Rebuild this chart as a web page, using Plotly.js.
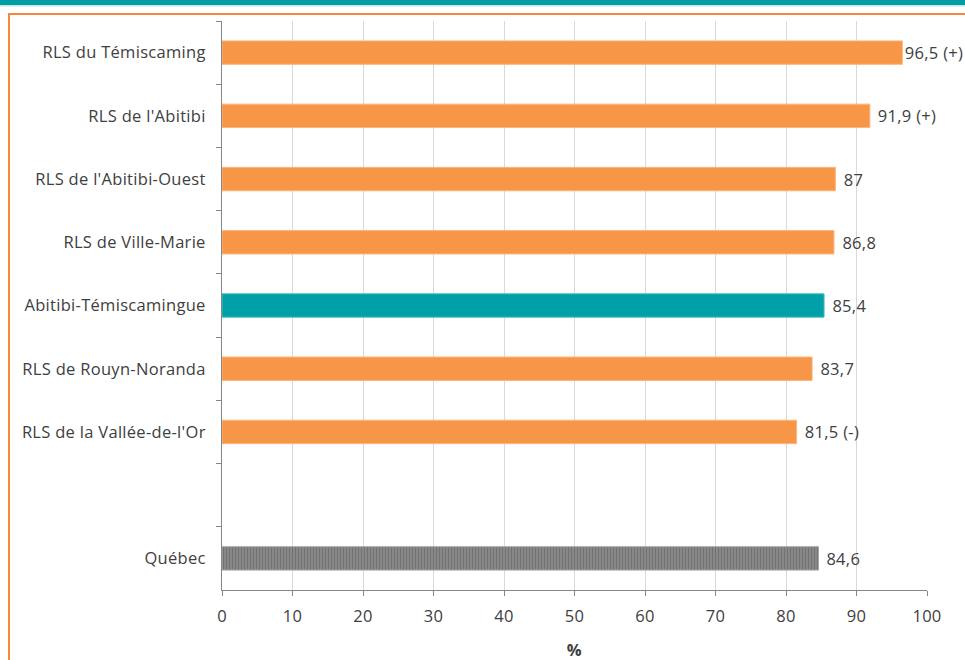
<!DOCTYPE html>
<html>
<head>
<meta charset="utf-8">
<script src="https://cdn.plot.ly/plotly-3.0.1.min.js"></script>
<style>
  html, body { margin: 0; padding: 0; background: #ffffff; }
  #chart { width: 965px; height: 660px; }
  #chart text { letter-spacing: 0.3px; }
</style>
</head>
<body>
<div id="chart"></div>
<script>
// Territories, top to bottom; the blank entry leaves a gap before Québec
const categories = [
  "RLS du Témiscaming",
  "RLS de l'Abitibi",
  "RLS de l'Abitibi-Ouest",
  "RLS de Ville-Marie",
  "Abitibi-Témiscamingue",
  "RLS de Rouyn-Noranda",
  "RLS de la Vallée-de-l'Or",
  " ",
  "Québec"
];
const values = [96.5, 91.9, 87, 86.8, 85.4, 83.7, 81.5, null, 84.6];
// Significance flags versus Québec
const flags = ["(+)", "(+)", "", "", "", "", "(-)", "", ""];
const xTicks = [0, 10, 20, 30, 40, 50, 60, 70, 80, 90, 100];

const ORANGE = "#F79646";
const TEAL = "#00A0A8";
const FONT = "Open Sans, Liberation Sans, sans-serif";
const FS = 16.5;
const TXT = "#404040";

const kinds = ["rls", "rls", "rls", "rls", "region", "rls", "rls", "none", "quebec"];

function fmt(v) {
  return String(v).replace(".", ",");
}

// Three traces so each group can get its own fill
function subset(kind) {
  return {
    x: values.map((v, i) => kinds[i] === kind ? v : null),
    y: categories
  };
}

const common = {
  type: "bar",
  orientation: "h",
  width: 0.37,
  hoverinfo: "skip",
  showlegend: false
};

const traces = [
  Object.assign({}, common, subset("rls"), {
    marker: { color: ORANGE, line: { color: "#FAB57F", width: 1 } }
  }),
  Object.assign({}, common, subset("region"), {
    marker: { color: TEAL, line: { color: "#4DBFC4", width: 1 } }
  }),
  Object.assign({}, common, subset("quebec"), {
    marker: {
      color: "#858585",
      line: { color: "#A6A6A6", width: 1 },
      pattern: { shape: "|", size: 3, solidity: 0.4, fgcolor: "#727272", bgcolor: "#8A8A8A", fillmode: "replace" }
    }
  })
];

// Value labels to the right of each bar; labels near the right edge hug the bar
const annotations = [];
values.forEach((v, i) => {
  if (v === null) return;
  const label = flags[i] ? fmt(v) + " " + flags[i] : fmt(v);
  annotations.push({
    x: v, y: categories[i], xref: "x", yref: "y",
    text: label, showarrow: false,
    xanchor: "left", yanchor: "middle", xshift: v > 95 ? 2 : 7,
    font: { family: FONT, size: FS, color: TXT }
  });
});
annotations.push({
  text: "<b>%</b>", showarrow: false,
  xref: "paper", yref: "paper", x: 0.5, y: -0.104,
  xanchor: "center", yanchor: "middle",
  font: { family: FONT, size: FS, color: TXT }
});

// Paper-coordinate helpers for the frame around the chart
const L = 222, R = 927, T = 21, B = 590;
const px = p => (p - L) / (R - L);
const py = p => (B - p) / (B - T);

const shapes = [
  { type: "rect", xref: "paper", yref: "paper", layer: "below",
    x0: px(-5), x1: px(975), y0: py(0), y1: py(5),
    fillcolor: "#009DA5", line: { width: 0 } },
  { type: "rect", xref: "paper", yref: "paper", layer: "below",
    x0: px(-5), x1: px(975), y0: py(5), y1: py(6.5),
    fillcolor: "#BFE6E8", line: { width: 0 } },
  { type: "rect", xref: "paper", yref: "paper", layer: "below",
    x0: px(9), x1: px(980), y0: py(14), y1: py(680),
    fillcolor: "rgba(0,0,0,0)", line: { color: "#F7863F", width: 2 } }
];

const layout = {
  width: 965, height: 660,
  margin: { l: L, r: 965 - R, t: T, b: 660 - B, pad: 0 },
  paper_bgcolor: "#ffffff",
  plot_bgcolor: "#ffffff",
  font: { family: FONT, size: FS, color: TXT },
  barmode: "overlay",
  xaxis: {
    range: [0, 100],
    tickvals: xTicks,
    ticktext: xTicks.map(String),
    showgrid: true, gridcolor: "#D9D9D9", gridwidth: 1,
    zeroline: false,
    showline: true, linecolor: "#868686", linewidth: 1,
    ticks: "outside", ticklen: 5, tickcolor: "#868686",
    ticklabelstandoff: 6,
    tickfont: { family: FONT, size: FS, color: TXT },
    fixedrange: true
  },
  yaxis: {
    type: "category",
    categoryorder: "array",
    categoryarray: categories,
    autorange: "reversed",
    showgrid: false, zeroline: false,
    showline: true, linecolor: "#868686", linewidth: 1,
    ticks: "outside", ticklen: 5, tickcolor: "#868686",
    tickson: "boundaries",
    ticklabelstandoff: 12,
    tickfont: { family: FONT, size: FS, color: TXT },
    fixedrange: true
  },
  annotations: annotations,
  shapes: shapes
};

Plotly.newPlot("chart", traces, layout, { staticPlot: true, displayModeBar: false });
</script>
</body>
</html>
